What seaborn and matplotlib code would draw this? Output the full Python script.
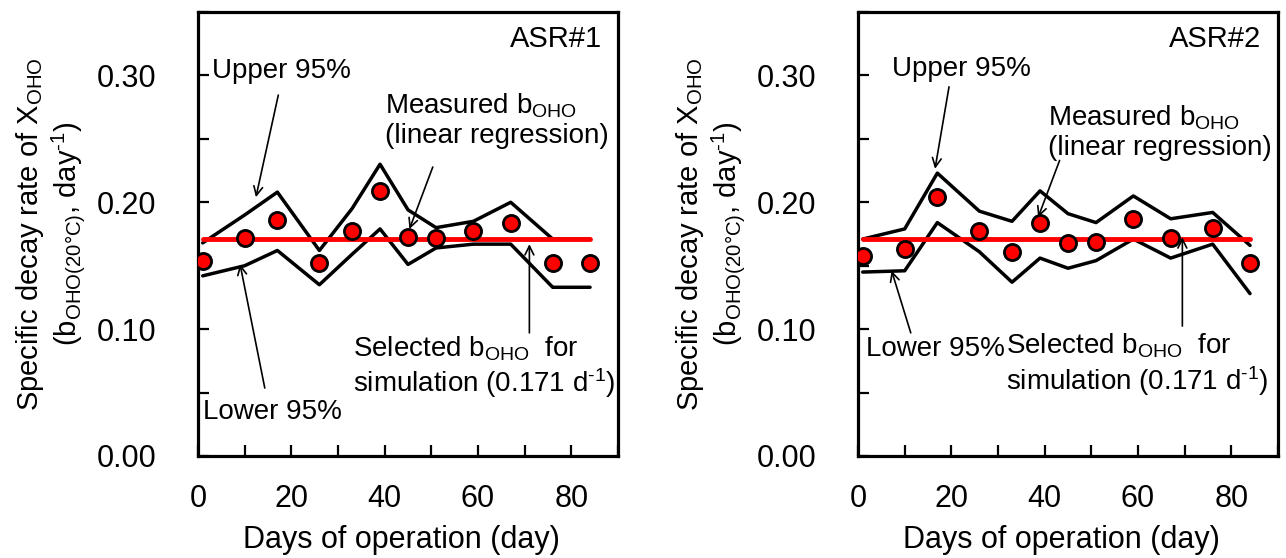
import pandas as pd
import seaborn as sns
import matplotlib.pyplot as plt
from matplotlib.ticker import MultipleLocator, FormatStrFormatter

# sampling days (same for both reactors)
days = [1, 10, 17, 26, 33, 39, 45, 51, 59, 67, 76, 84]

# ASR#1
asr1_b = [0.154, 0.172, 0.186, 0.152, 0.177, 0.209, 0.173, 0.172, 0.177, 0.184, 0.152, 0.152]
asr1_upper = [0.168, 0.190, 0.208, 0.162, 0.195, 0.230, 0.194, 0.180, 0.185, 0.200, 0.171, 0.171]
asr1_lower = [0.142, 0.150, 0.162, 0.135, 0.159, 0.179, 0.151, 0.164, 0.167, 0.167, 0.133, 0.133]

# ASR#2
asr2_b = [0.158, 0.163, 0.204, 0.177, 0.161, 0.184, 0.168, 0.169, 0.187, 0.172, 0.180, 0.152]
asr2_upper = [0.171, 0.179, 0.223, 0.193, 0.185, 0.209, 0.191, 0.184, 0.205, 0.187, 0.192, 0.166]
asr2_lower = [0.145, 0.146, 0.184, 0.161, 0.137, 0.156, 0.148, 0.154, 0.171, 0.156, 0.167, 0.128]

b_selected = 0.171

sns.set_theme(style="ticks")
plt.rcParams["font.family"] = ["Liberation Sans", "DejaVu Sans"]
plt.rcParams["mathtext.fontset"] = "custom"
plt.rcParams["mathtext.rm"] = "Liberation Sans"
plt.rcParams["mathtext.it"] = "Liberation Sans"
plt.rcParams["mathtext.bf"] = "Liberation Sans:bold"
for key in ["text.color", "axes.labelcolor", "xtick.color", "ytick.color"]:
    plt.rcParams[key] = "black"

B_OHO = r"b$_{\mathregular{OHO}}$"
MEASURED = "Measured " + B_OHO + "\n(linear regression)"
SELECTED = "Selected " + B_OHO + "  for\nsimulation (0.171 d$^{\\text{-1}}$)"
YLABEL = ("Specific decay rate of X$_{\\mathregular{OHO}}$\n"
          "(b$_{\\mathregular{OHO(20\u00b0C)}}$, day$^{\\text{-1}}$)")

# text (x, y) and arrows (start, end) in data coords
notes1 = {
    "upper": ((2.9, 0.3035), (17.2, 0.2845), (12.4, 0.204)),
    "measured": ((40.0, 0.2647), (50.3, 0.2278), (45.3, 0.1789)),
    "selected": ((33.2, 0.070), (71.0, 0.0971), (71.0, 0.167)),
    "lower": ((1.0, 0.0346), (14.3, 0.0536), (9.0, 0.1512)),
}
notes2 = {
    "upper": ((7.2, 0.305), (19.5, 0.291), (16.5, 0.2264)),
    "measured": ((40.7, 0.2555), (43.2, 0.233), (38.6, 0.1882)),
    "selected": ((31.8, 0.072), (69.5, 0.1024), (69.5, 0.1724)),
    "lower": ((1.7, 0.0845), (11.3, 0.0971), (7.2, 0.146)),
}
labels = {"upper": "Upper 95%", "measured": MEASURED,
          "selected": SELECTED, "lower": "Lower 95%"}


def draw_panel(ax, measured, upper, lower, tag, notes):
    df = pd.DataFrame({"day": days, "b": measured, "upper": upper, "lower": lower})
    for col in ["upper", "lower"]:
        sns.lineplot(data=df, x="day", y=col, ax=ax, color="black", lw=2.5,
                     estimator=None, sort=False, zorder=2)
    sns.lineplot(x=[days[0], days[-1]], y=[b_selected, b_selected], ax=ax,
                 color="#ff0000", lw=3.5, zorder=3)
    sns.scatterplot(data=df, x="day", y="b", ax=ax, s=135, color="#ff0000",
                    edgecolor="black", linewidth=2.0, zorder=4)

    ax.set_xlim(0, 90)
    ax.set_ylim(0, 0.35)
    ax.xaxis.set_major_locator(MultipleLocator(20))
    ax.xaxis.set_minor_locator(MultipleLocator(10))
    ax.yaxis.set_major_locator(MultipleLocator(0.1))
    ax.yaxis.set_minor_locator(MultipleLocator(0.05))
    ax.yaxis.set_major_formatter(FormatStrFormatter("%.2f"))
    ax.tick_params(which="both", direction="in", length=8, width=1.6,
                   top=False, right=False, colors="black")
    ax.tick_params(axis="y", which="major", labelsize=22, pad=30)
    ax.tick_params(axis="x", which="major", labelsize=22, pad=20)
    for sp in ax.spines.values():
        sp.set_visible(True)
        sp.set_linewidth(2.3)
        sp.set_color("black")

    ax.set_xlabel("Days of operation (day)", fontsize=22, labelpad=8)
    ax.xaxis.set_label_coords(0.485, -0.155)
    ax.set_ylabel(YLABEL, fontsize=21, labelpad=7, linespacing=1.1)

    ax.text(0.961, 0.939, tag, transform=ax.transAxes, ha="right",
            va="center", fontsize=21)
    for key, (pos, start, end) in notes.items():
        ax.text(pos[0], pos[1], labels[key], fontsize=20, ha="left",
                va="center", linespacing=1.15)
        ax.annotate("", xy=end, xytext=start,
                    arrowprops=dict(arrowstyle="->", lw=1.2, color="black",
                                    shrinkA=0, shrinkB=0, mutation_scale=16))


fig = plt.figure(figsize=(12.86, 5.58), dpi=100)
ax1 = fig.add_axes([0.154, 0.1828, 0.3266, 0.7957])
ax2 = fig.add_axes([0.6672, 0.1828, 0.3266, 0.7957])

draw_panel(ax1, asr1_b, asr1_upper, asr1_lower, "ASR#1", notes1)
draw_panel(ax2, asr2_b, asr2_upper, asr2_lower, "ASR#2", notes2)

fig.savefig("out.png", dpi=100)
plt.close(fig)
